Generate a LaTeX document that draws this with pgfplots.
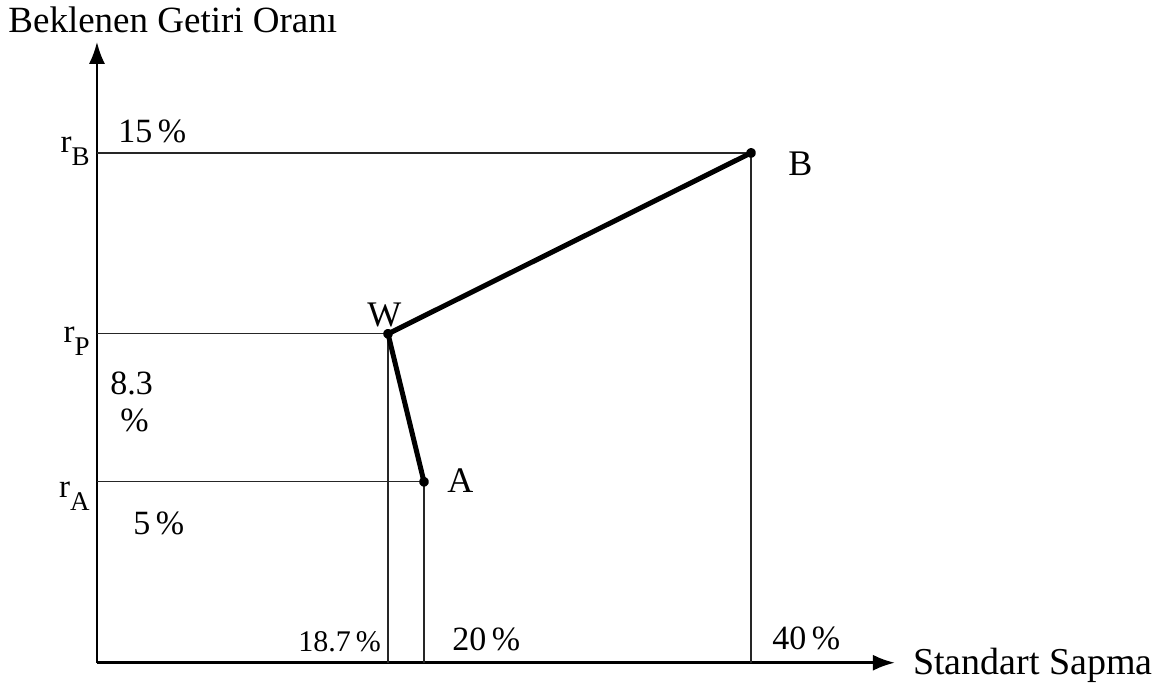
\documentclass[border=0pt]{standalone}
\usepackage{fontspec}
\setmainfont{Liberation Serif}
\usepackage{pgfplots}
\pgfplotsset{compat=1.18}
\usetikzlibrary{arrows.meta}

\newcommand{\rsub}[2]{\raisebox{#2}{r\raisebox{-6.5pt}{\fontsize{13.5}{16}\selectfont #1}}}
\tikzset{lbl/.style={anchor=base west, inner sep=0pt}}

\begin{document}
\fontsize{17}{20}\selectfont
\begin{tikzpicture}
\begin{axis}[
    scale only axis,
    width=399pt, height=310.5pt,
    anchor=origin, at={(0,0)},
    xmin=0, xmax=48.8, ymin=0, ymax=18.88,
    axis lines=left,
    axis line style={line width=1.3pt, -{Latex[length=11pt,width=8pt]}},
    xtick=\empty,
    ytick={5.5,10,15.5},
    yticklabels={\rsub{A}{-8pt}, \rsub{P}{-4.5pt}, \rsub{B}{0pt}},
    major tick length=0pt,
    yticklabel style={font=\fontsize{16.5}{20}\selectfont, anchor=base east, inner sep=3.5pt},
    clip=false,
]
% guide lines from the axes to the portfolios
\addplot[black!85, line width=0.6pt] coordinates {(0,15.5) (40,15.5) (40,0)};
\addplot[black!85, line width=0.6pt] coordinates {(0,10) (17.8,10) (17.8,0)};
\addplot[black!85, line width=0.6pt] coordinates {(0,5.5) (20,5.5) (20,0)};
% A - W - B
\addplot[black, line width=2.5pt, line join=round,
    mark=*, mark size=1.2pt] coordinates {(20,5.5) (17.8,10) (40,15.5)};

\node[lbl] at (axis cs:1.28,15.81) {15\,\%};
\node[lbl] at (axis cs:0.80,8.15) {8.3};
\node[lbl] at (axis cs:1.41,7.02) {\%};
\node[lbl] at (axis cs:2.20,3.89) {5\,\%};
\node[lbl] at (axis cs:12.29,0.33) {\fontsize{15}{18}\selectfont 18.7\,\%};
\node[lbl] at (axis cs:21.71,0.36) {20\,\%};
\node[lbl] at (axis cs:41.28,0.40) {40\,\%};
\node[lbl] at (axis cs:42.26,14.80) {\fontsize{18}{20}\selectfont B};
\node[lbl] at (axis cs:16.51,10.21) {\fontsize{18}{20}\selectfont W};
\node[lbl] at (axis cs:21.41,5.17) {\fontsize{18}{20}\selectfont A};
\node[lbl] at (axis cs:49.9,-0.36) {\fontsize{19}{22}\selectfont Standart Sapma};
\node[lbl] at (axis cs:-5.44,19.15) {\fontsize{18.5}{22}\selectfont Beklenen Getiri Oranı};

\coordinate (bl) at (axis cs:-5.93,-0.70);
\coordinate (tr) at (axis cs:65.44,20.15);
\end{axis}
\pgfresetboundingbox
\path[use as bounding box] (bl) rectangle (tr);
\end{tikzpicture}
\end{document}
